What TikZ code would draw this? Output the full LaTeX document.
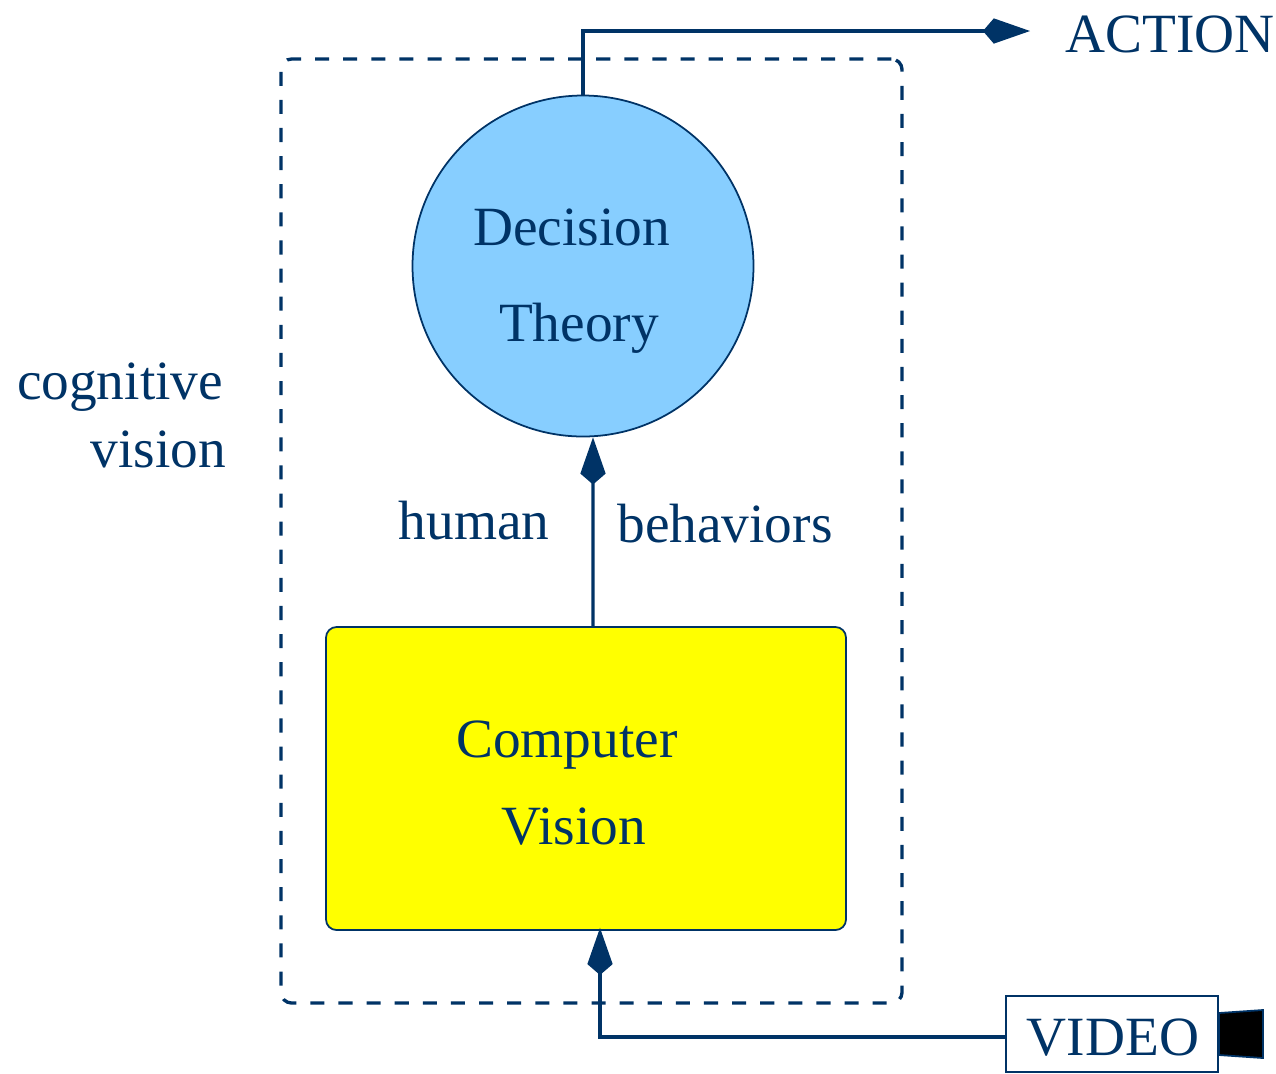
\documentclass[tikz,border=0pt]{standalone}
\usepackage{fontspec}
\setmainfont{Liberation Serif}
\usepackage{tikz}
\usetikzlibrary{arrows.meta}
\definecolor{navy}{HTML}{003366}
\definecolor{skyfill}{HTML}{87CEFF}
\definecolor{boxyellow}{RGB}{255,255,0}
\tikzstyle{txt}=[text=navy, anchor=base, inner sep=0pt, font=\fontsize{15.75}{18}\selectfont]
\tikzstyle{wire}=[draw=navy, line width=0.95pt]
\tikzstyle{outline}=[draw=navy, line width=0.5pt]
\tikzset{>={Kite[length=13.4pt, width=7.2pt, inset=3.1pt]}}

\begin{document}
\begin{tikzpicture}
        \useasboundingbox (0, 0) rectangle (12.76, -10.73);

        % Cognitive vision frame
        \node at (5.915, -5.31) [draw=navy, line width=0.95pt, dash pattern=on 4pt off 4pt, rounded corners=3pt, minimum width=6.21cm, minimum height=9.44cm, inner sep=0pt] (frame){};

        % Blocks
        \node at (5.83, -2.66) [circle, outline, fill=skyfill, minimum size=3.41cm, inner sep=0pt] (theory){};
        \node at (5.86, -7.785) [outline, fill=boxyellow, rounded corners=3pt, minimum width=5.2cm, minimum height=3.03cm, inner sep=0pt] (vision){};
        \node at (11.12, -10.34) [outline, fill=white, minimum width=2.12cm, minimum height=0.76cm, inner sep=0pt] (video){};

        % Camera
        \draw [outline, fill=black] (video.east |- 0, -10.13) -- (12.63, -10.10) -- (12.63, -10.58) -- (video.east |- 0, -10.55) -- cycle;

        % Connectors
        \coordinate (action_tip) at (10.30, -0.31);
        \draw [wire, ->] (theory.north) |- (action_tip);
        \draw [wire, ->] ([xshift=0.07cm]vision.north) -- ([xshift=0.10cm]theory.south);
        \draw [wire, ->] ([yshift=-0.03cm]video.west) -| ([xshift=0.14cm, yshift=0.03cm]vision.south);

        % Text
        \node at (11.70, -0.52) [txt] (action_text) {ACTION};
        \node at (5.715, -2.45) [txt] (decision_text) {Decision};
        \node at (5.79, -3.41) [txt] (theory_text) {Theory};
        \node at (1.20, -3.99) [txt] (cognitive_text) {cognitive};
        \node at (1.585, -4.67) [txt] (vision_word) {vision};
        \node at (4.74, -5.39) [txt] (human_text) {human};
        \node at (7.25, -5.42) [txt] (behaviors_text) {behaviors};
        \node at (5.67, -7.57) [txt] (computer_text) {Computer};
        \node at (5.74, -8.44) [txt] (vision_text) {Vision};
        \node at (11.13, -10.55) [txt] (video_text) {VIDEO};
\end{tikzpicture}
\end{document}
